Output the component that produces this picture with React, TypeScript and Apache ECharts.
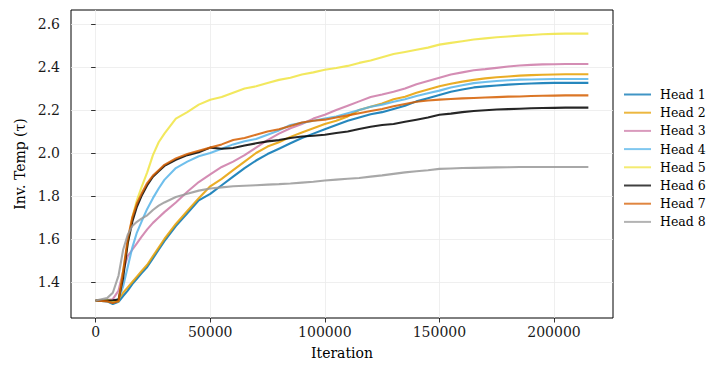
import React, { useEffect, useRef } from "react";
import * as echarts from "echarts";

const iterations = [
  0, 5000, 7500, 10000, 12000, 14000, 16000, 18000, 20000, 22500,
  25000, 27500, 30000, 35000, 40000, 45000, 50000, 55000, 60000, 65000,
  70000, 75000, 80000, 85000, 90000, 95000, 100000, 105000, 110000, 115000,
  120000, 125000, 130000, 135000, 140000, 145000, 150000, 155000, 160000, 165000,
  170000, 175000, 180000, 185000, 190000, 195000, 200000, 205000, 210000, 215000,
];

const head1 = [
  1.314, 1.31, 1.298, 1.308, 1.335, 1.36, 1.39, 1.415, 1.44, 1.47,
  1.51, 1.55, 1.59, 1.66, 1.72, 1.78, 1.81, 1.85, 1.89, 1.93,
  1.965, 1.995, 2.02, 2.045, 2.07, 2.09, 2.11, 2.13, 2.15, 2.165,
  2.18, 2.19, 2.205, 2.22, 2.24, 2.255, 2.27, 2.285, 2.295, 2.305,
  2.31, 2.314, 2.318, 2.321, 2.323, 2.325, 2.326, 2.326, 2.326, 2.326,
];
const head2 = [
  1.314, 1.312, 1.305, 1.32, 1.35, 1.375, 1.4, 1.425, 1.45, 1.48,
  1.52, 1.56, 1.6, 1.67, 1.73, 1.79, 1.845, 1.88, 1.92, 1.96,
  2.0, 2.03, 2.05, 2.075, 2.095, 2.115, 2.135, 2.15, 2.17, 2.2,
  2.215, 2.23, 2.25, 2.262, 2.28, 2.295, 2.31, 2.322, 2.332, 2.34,
  2.347, 2.352, 2.356, 2.36, 2.362, 2.364, 2.365, 2.366, 2.366, 2.366,
];
const head3 = [
  1.314, 1.316, 1.32, 1.36, 1.45, 1.52, 1.55, 1.58, 1.61, 1.645,
  1.675, 1.7, 1.725, 1.77, 1.82, 1.865, 1.9, 1.935, 1.96, 1.99,
  2.025, 2.06, 2.09, 2.115, 2.135, 2.16, 2.178, 2.2, 2.22, 2.24,
  2.26, 2.272, 2.285, 2.3, 2.32, 2.335, 2.35, 2.365, 2.375, 2.385,
  2.39, 2.396, 2.402, 2.407, 2.41, 2.412, 2.413, 2.414, 2.414, 2.414,
];
const head4 = [
  1.314, 1.314, 1.31, 1.32, 1.38, 1.47, 1.56, 1.63, 1.68, 1.74,
  1.79, 1.835, 1.875, 1.93, 1.96, 1.985, 2.0, 2.02, 2.04, 2.055,
  2.065, 2.085, 2.105, 2.13, 2.14, 2.15, 2.16, 2.17, 2.185, 2.2,
  2.215, 2.225, 2.238, 2.25, 2.265, 2.278, 2.29, 2.305, 2.315, 2.325,
  2.33, 2.335, 2.338, 2.341, 2.342, 2.343, 2.344, 2.344, 2.344, 2.344,
];
const head5 = [
  1.314, 1.316, 1.312, 1.31, 1.45, 1.58, 1.7, 1.78, 1.84, 1.91,
  1.99, 2.05, 2.09, 2.16, 2.19, 2.225, 2.248, 2.26, 2.28, 2.3,
  2.31, 2.325, 2.34, 2.35, 2.365, 2.375, 2.387, 2.395, 2.405, 2.419,
  2.43, 2.445, 2.46, 2.47, 2.48, 2.49, 2.504, 2.512, 2.52, 2.528,
  2.533, 2.538, 2.542, 2.546, 2.549, 2.552, 2.554, 2.555, 2.555, 2.555,
];
const head6 = [
  1.314, 1.314, 1.315, 1.318, 1.42, 1.58, 1.68, 1.75, 1.8, 1.85,
  1.89, 1.915, 1.94, 1.968, 1.99, 2.003, 2.025, 2.02, 2.023, 2.035,
  2.045, 2.054, 2.06, 2.07, 2.077, 2.08, 2.085, 2.093, 2.1, 2.112,
  2.122, 2.13, 2.135, 2.145, 2.155, 2.165, 2.178, 2.183, 2.19, 2.195,
  2.199, 2.202, 2.204, 2.206, 2.208, 2.209, 2.21, 2.211, 2.211, 2.211,
];
const head7 = [
  1.314, 1.31, 1.302, 1.31, 1.45, 1.6, 1.7, 1.765, 1.81, 1.86,
  1.895, 1.92, 1.945, 1.975, 1.995, 2.01, 2.025, 2.04, 2.06, 2.07,
  2.085, 2.1, 2.11, 2.125, 2.142, 2.15, 2.155, 2.165, 2.175, 2.185,
  2.195, 2.205, 2.217, 2.228, 2.238, 2.244, 2.248, 2.251, 2.254, 2.256,
  2.258, 2.26, 2.262, 2.263, 2.265, 2.266, 2.267, 2.268, 2.268, 2.268,
];
const head8 = [
  1.314, 1.325, 1.35, 1.43, 1.55, 1.62, 1.66, 1.68, 1.695, 1.71,
  1.735, 1.755, 1.77, 1.795, 1.81, 1.825, 1.835, 1.84, 1.845, 1.848,
  1.85, 1.853, 1.855, 1.858, 1.862, 1.866, 1.872, 1.876, 1.88, 1.884,
  1.89, 1.896, 1.903, 1.91, 1.915, 1.92, 1.926, 1.928, 1.93, 1.931,
  1.932, 1.933, 1.934, 1.935, 1.935, 1.935, 1.935, 1.935, 1.935, 1.935,
];

const seriesNames = ["Head 1", "Head 2", "Head 3", "Head 4", "Head 5", "Head 6", "Head 7", "Head 8"];
const seriesValues = [head1, head2, head3, head4, head5, head6, head7, head8];
const colors = ["#0072B2", "#E69F00", "#CC79A7", "#56B4E9", "#F0E442", "#000000", "#D55E00", "#999999"];

const xTicks = [0, 50000, 100000, 150000, 200000];
const yTicks = [1.4, 1.6, 1.8, 2.0, 2.2, 2.4, 2.6];

const FONT = "DejaVu Serif";

export default function App() {
  const ref = useRef<HTMLDivElement>(null);
  useEffect(() => {
    if (!ref.current) return;
    const chart = echarts.init(ref.current, null, { renderer: "svg" });
    const series = seriesNames.map((name, i) => ({
      name,
      type: "line",
      symbol: "none",
      showSymbol: false,
      data: iterations.map((it, k) => [it, seriesValues[i][k]]),
      lineStyle: { color: colors[i], width: 2.1, opacity: 0.85 },
      itemStyle: { color: colors[i], opacity: 0.85 },
      emphasis: { disabled: true },
    }));
    chart.setOption({
      animation: false,
      backgroundColor: "#ffffff",
      textStyle: { fontFamily: FONT },
      grid: {
        left: 71,
        top: 10,
        right: 107,
        bottom: 56,
        show: true,
        borderColor: "#000000",
        borderWidth: 1,
        backgroundColor: "transparent",
      },
      legend: {
        orient: "vertical",
        left: 623,
        top: 88,
        padding: 0,
        itemWidth: 27,
        itemHeight: 14,
        itemGap: 5.2,
        itemStyle: { opacity: 0 },
        lineStyle: { width: 2, opacity: 0.75 },
        textStyle: { fontFamily: FONT, fontSize: 12.5, color: "#000", padding: [0, 0, 0, 4] },
        data: seriesNames,
      },
      xAxis: {
        type: "value",
        min: -10750,
        max: 225750,
        name: "Iteration",
        nameLocation: "middle",
        nameGap: 28,
        nameTextStyle: { fontFamily: FONT, fontSize: 14, color: "#000" },
        axisLine: { show: false },
        axisTick: { show: true, length: 4.5, lineStyle: { color: "#000", width: 0.8 }, customValues: xTicks },
        axisLabel: { fontFamily: FONT, fontSize: 14, color: "#1a1a1a", margin: 7, customValues: xTicks, formatter: (v: number) => String(v) },
        splitLine: { show: true, lineStyle: { color: "#ebebeb", width: 0.8 } },
      },
      yAxis: {
        type: "value",
        min: 1.2326,
        max: 2.665,
        name: "Inv. Temp (τ)",
        nameLocation: "middle",
        nameGap: 44,
        nameTextStyle: { fontFamily: FONT, fontSize: 14, color: "#000" },
        axisLine: { show: false },
        axisTick: { show: true, length: 4.5, lineStyle: { color: "#000", width: 0.8 }, customValues: yTicks },
        axisLabel: { fontFamily: FONT, fontSize: 14, color: "#1a1a1a", margin: 11, customValues: yTicks, formatter: (v: number) => v.toFixed(1) },
        splitLine: { show: true, lineStyle: { color: "#ebebeb", width: 0.8 } },
      },
      series,
    });
    return () => chart.dispose();
  }, []);
  return <div ref={ref} style={{ position: "fixed", left: 0, top: 0, width: 720, height: 374 }} />;
}
